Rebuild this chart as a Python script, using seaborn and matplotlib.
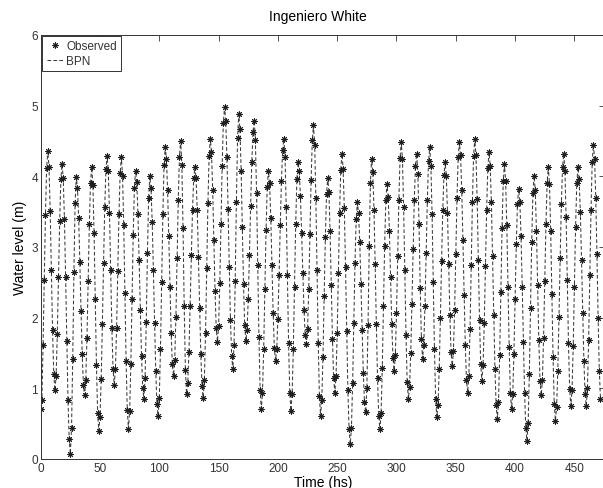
import matplotlib
matplotlib.use("Agg")
import matplotlib.pyplot as plt
import seaborn as sns
import numpy as np
import pandas as pd

# Observed hourly water level (m), hour 0 onward
observed_level = [
    0.71, 0.83, 1.62, 2.54, 3.45, 4.12, 4.36,
    4.13, 3.51, 2.67, 1.82, 1.20, 0.97,
    1.18, 1.77, 2.57, 3.37, 3.96, 4.17,
    3.97, 3.40, 2.58, 1.67, 0.84, 0.28, 0.07,
    0.44, 1.42, 2.64, 3.62, 3.99,
    3.84, 3.41, 2.79, 2.10, 1.48, 1.05, 0.90,
    1.12, 1.71, 2.52, 3.32, 3.91, 4.13,
    3.88, 3.20, 2.27, 1.33, 0.65, 0.40,
    0.60, 1.13, 1.91, 2.78, 3.56, 4.10, 4.29,
    4.07, 3.48, 2.67, 1.86, 1.27, 1.05,
    1.27, 1.86, 2.66, 3.47, 4.05, 4.27,
    4.01, 3.31, 2.35, 1.39, 0.69, 0.43,
    0.68, 1.34, 2.26, 3.17, 3.84, 4.08,
    3.92, 3.47, 2.82, 2.11, 1.46, 1.01, 0.85,
    1.15, 1.94, 2.91, 3.70, 4.00,
    3.83, 3.36, 2.68, 1.93, 1.25, 0.78, 0.61,
    0.87, 1.56, 2.51, 3.46, 4.16, 4.41,
    4.25, 3.80, 3.15, 2.44, 1.79, 1.34, 1.18,
    1.40, 2.01, 2.84, 3.67, 4.28, 4.50,
    4.16, 3.27, 2.16, 1.26, 0.92,
    1.08, 1.52, 2.17, 2.88, 3.53, 3.97, 4.13,
    3.97, 3.52, 2.86, 2.14, 1.48, 1.03, 0.87,
    1.12, 1.79, 2.70, 3.62, 4.29, 4.53,
    4.34, 3.81, 3.10, 2.38, 1.85, 1.66,
    1.88, 2.49, 3.32, 4.15, 4.76, 4.98,
    4.79, 4.28, 3.54, 2.71, 1.97, 1.46, 1.27,
    1.61, 2.52, 3.64, 4.54, 4.88,
    4.67, 4.08, 3.28, 2.47, 1.89, 1.67,
    1.83, 2.26, 2.88, 3.58, 4.20, 4.63, 4.79,
    4.52, 3.77, 2.75, 1.73, 0.98, 0.71,
    0.94, 1.55, 2.40, 3.24, 3.85, 4.08,
    3.90, 3.41, 2.74, 2.06, 1.57, 1.39,
    1.55, 1.98, 2.61, 3.31, 3.94, 4.37, 4.53,
    4.27, 3.57, 2.61, 1.64, 0.94, 0.68,
    0.92, 1.56, 2.44, 3.32, 3.96, 4.20,
    4.07, 3.72, 3.20, 2.63, 2.11, 1.76, 1.63,
    1.84, 2.40, 3.18, 3.95, 4.51, 4.72,
    4.45, 3.69, 2.67, 1.64, 0.89, 0.61,
    0.84, 1.45, 2.30, 3.14, 3.75, 3.98,
    3.78, 3.22, 2.46, 1.70, 1.14, 0.94,
    1.17, 1.79, 2.63, 3.48, 4.09, 4.32,
    4.11, 3.55, 2.72, 1.81, 0.98, 0.42, 0.21,
    0.44, 1.07, 1.92, 2.78, 3.40, 3.63,
    3.48, 3.07, 2.48, 1.82, 1.22, 0.81, 0.66,
    1.00, 1.90, 3.01, 3.91, 4.25,
    4.06, 3.53, 2.76, 1.91, 1.14, 0.61, 0.42,
    0.65, 1.29, 2.16, 3.02, 3.66, 3.89,
    3.71, 3.23, 2.57, 1.91, 1.43, 1.25,
    1.47, 2.06, 2.87, 3.67, 4.26, 4.48,
    4.24, 3.57, 2.67, 1.76, 1.09, 0.85,
    1.02, 1.50, 2.20, 2.97, 3.67, 4.15, 4.32,
    4.04, 3.32, 2.42, 1.70, 1.42,
    1.62, 2.17, 2.92, 3.66, 4.21, 4.41,
    4.15, 3.46, 2.50, 1.55, 0.85, 0.59,
    0.77, 1.27, 1.99, 2.80, 3.52, 4.02, 4.20,
    4.01, 3.48, 2.76, 2.04, 1.51, 1.32,
    1.53, 2.11, 2.90, 3.69, 4.27, 4.48,
    4.30, 3.81, 3.10, 2.32, 1.61, 1.12, 0.94,
    1.18, 1.84, 2.74, 3.63, 4.29, 4.53,
    4.30, 3.68, 2.82, 1.97, 1.34, 1.11,
    1.33, 1.92, 2.73, 3.53, 4.12, 4.34,
    4.15, 3.63, 2.87, 2.04, 1.28, 0.76, 0.57,
    0.81, 1.47, 2.37, 3.27, 3.93, 4.17,
    3.94, 3.31, 2.44, 1.58, 0.94, 0.71,
    0.92, 1.49, 2.27, 3.04, 3.61, 3.82,
    3.64, 3.15, 2.44, 1.65, 0.93, 0.44, 0.26,
    0.51, 1.20, 2.14, 3.07, 3.76, 4.01,
    3.80, 3.23, 2.46, 1.68, 1.11, 0.90,
    1.12, 1.71, 2.52, 3.32, 3.91, 4.13,
    3.89, 3.23, 2.34, 1.44, 0.78, 0.54,
    0.73, 1.25, 2.01, 2.85, 3.61, 4.13, 4.32,
    4.08, 3.43, 2.54, 1.64, 0.99, 0.75,
    0.98, 1.60, 2.44, 3.29, 3.90, 4.13,
    3.96, 3.50, 2.82, 2.07, 1.39, 0.92, 0.75,
    1.00, 1.68, 2.60, 3.53, 4.20, 4.45,
    4.25, 3.70, 2.90, 2.00, 1.25, 0.85,
]
# BPN model output follows the observations so closely it is indistinguishable
bpn_level = list(observed_level)
hours = list(range(len(observed_level)))

x_ticks = [0, 50, 100, 150, 200, 250, 300, 350, 400, 450]
y_ticks = [0, 1, 2, 3, 4, 5, 6]

df = pd.DataFrame({"Time": hours, "Observed": observed_level, "BPN": bpn_level})

sns.set_style("white")
plt.rcParams["font.family"] = ["Liberation Sans", "DejaVu Sans"]

fig = plt.figure(figsize=(6.03, 4.89), dpi=100)
ax = fig.add_axes([40.7 / 603, 1 - 460 / 489, (605 - 40.7) / 603, (460 - 36) / 489])

ink = "#1f1f1f"
sns.lineplot(data=df, x="Time", y="BPN", ax=ax, color="#3a3a3a", linewidth=0.75,
             linestyle=(0, (3.5, 2.2)), label="BPN", estimator=None, sort=False)
sns.lineplot(data=df, x="Time", y="Observed", ax=ax, color=ink, linestyle="none",
             marker=(8, 2, 0), markersize=4.3, markeredgewidth=0.7,
             markeredgecolor=ink, label="Observed", estimator=None, sort=False)

xmax = (605 - 40.7) / 1.186
ax.set_xlim(0, xmax)
ax.set_ylim(0, 6)
ax.set_xticks(x_ticks)
ax.set_yticks(y_ticks)

ax.tick_params(direction="in", length=4, width=0.6, top=True, right=True,
               labelsize=8.5, labelcolor="#333333", color="#333333", pad=2)
for s in ax.spines.values():
    s.set_color("#333333")
    s.set_linewidth(0.7)

ax.set_xlabel("Time (hs)", fontsize=10, color="black", labelpad=1)
ax.set_ylabel("Water level (m)", fontsize=10, color="black", labelpad=3)
ax.set_title("Ingeniero White", fontsize=10, color="black", pad=11,
             x=(318 - 40.7) / (605 - 40.7))

handles, labels = ax.get_legend_handles_labels()
order = [labels.index("Observed"), labels.index("BPN")]
leg = ax.legend([handles[i] for i in order], [labels[i] for i in order],
                loc="upper left", bbox_to_anchor=(0.003, 0.997), fontsize=8.5,
                frameon=True, fancybox=False, edgecolor="#333333", framealpha=1,
                handlelength=1.4, handletextpad=0.25, borderpad=0.35,
                labelspacing=0.2, borderaxespad=0.0)
leg.get_frame().set_linewidth(0.7)
for t in leg.get_texts():
    t.set_color("#333333")

fig.savefig("out.png", dpi=100)
